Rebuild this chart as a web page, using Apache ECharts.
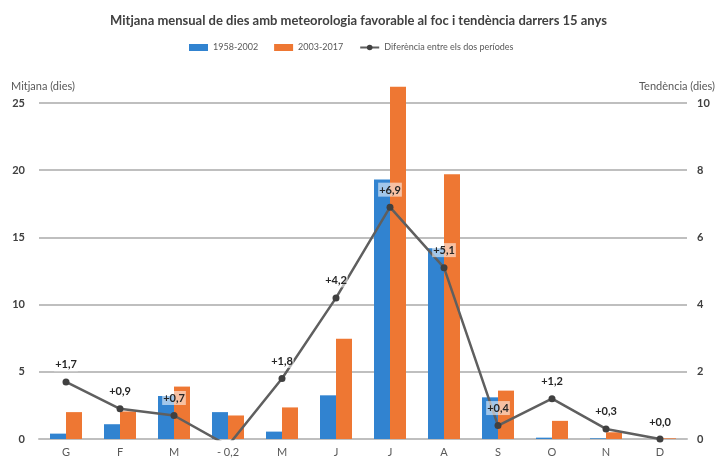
<!DOCTYPE html>
<html>
<head>
<meta charset="utf-8">
<script src="https://cdn.jsdelivr.net/npm/echarts@6/dist/echarts.min.js"></script>
<style>html,body{margin:0;padding:0;background:#fff}#c{width:717px;height:461px}</style>
</head>
<body>
<div id="c"></div>
<script>
const months = ['G','F','M','A','M','J','J','A','S','O','N','D'];
const period1 = [0.4, 1.1, 3.2, 2.0, 0.55, 3.25, 19.3, 14.2, 3.1, 0.1, 0.05, 0.0];
const period2 = [2.0, 2.05, 3.9, 1.75, 2.35, 7.45, 26.2, 19.7, 3.6, 1.35, 0.5, 0.05];
const diff = [1.7, 0.9, 0.7, -0.2, 1.8, 4.2, 6.9, 5.1, 0.4, 1.2, 0.3, 0.0];
const leftTicks = [0, 5, 10, 15, 20, 25];
const rightTicks = [0, 2, 4, 6, 8, 10];
const seriesNames = ['1958-2002', '2003-2017', 'Diferència entre els dos períodes'];

const fmt = v => (v < 0 ? '- ' : '+') + Math.abs(v).toFixed(1).replace('.', ',');
const FONT = 'Lato';

const chart = echarts.init(document.getElementById('c'), null, {renderer: 'canvas'});
chart.setOption({
  backgroundColor: '#ffffff',
  animation: false,
  textStyle: {fontFamily: FONT},
  title: {
    text: 'Mitjana mensual de dies amb meteorologia favorable al foc i tendència darrers 15 anys',
    left: 'center', top: 9,
    textStyle: {fontFamily: FONT, fontSize: 13, fontWeight: 'bold', color: '#404040'}
  },
  legend: {
    top: 38, left: 184,
    itemWidth: 19, itemHeight: 7, itemGap: 16,
    textStyle: {fontFamily: FONT, fontSize: 9, color: '#595959'},
    data: [
      {name: seriesNames[0], icon: 'rect'},
      {name: seriesNames[1], icon: 'rect'},
      {name: seriesNames[2]}
    ]
  },
  graphic: [
    {type: 'text', left: 11, top: 81, style: {text: 'Mitjana (dies)', fontFamily: FONT, fontSize: 11, fill: '#595959'}},
    {type: 'text', right: 2, top: 81, style: {text: 'Tendència (dies)', fontFamily: FONT, fontSize: 11, fill: '#595959'}}
  ],
  grid: {left: 39, right: 30, top: 103, bottom: 22},
  xAxis: {
    type: 'category', data: months,
    axisLine: {lineStyle: {color: '#BFBFBF', width: 2}},
    axisTick: {show: false},
    axisLabel: {
      margin: 8, fontSize: 11, color: '#595959', fontFamily: FONT,
      formatter: (v, i) => diff[i] < 0 ? fmt(diff[i]) : v
    }
  },
  yAxis: [
    {
      type: 'value', min: leftTicks[0], max: leftTicks[leftTicks.length - 1], interval: leftTicks[1] - leftTicks[0],
      axisLine: {show: false}, axisTick: {show: false},
      axisLabel: {margin: 14, fontSize: 11, color: '#404040', fontWeight: 'bold', fontFamily: FONT},
      splitLine: {lineStyle: {color: '#BFBFBF', width: 2}}
    },
    {
      type: 'value', min: rightTicks[0], max: rightTicks[rightTicks.length - 1], interval: rightTicks[1] - rightTicks[0],
      axisLine: {show: false}, axisTick: {show: false},
      axisLabel: {margin: 10, fontSize: 11, color: '#404040', fontWeight: 'bold', fontFamily: FONT},
      splitLine: {show: false}
    }
  ],
  series: [
    {name: seriesNames[0], type: 'bar', data: period1, barWidth: 16, barGap: '0%', clip: false,
     itemStyle: {color: '#3183D0'}},
    {name: seriesNames[1], type: 'bar', data: period2, barWidth: 16, clip: false,
     itemStyle: {color: '#EE7733'}},
    {name: seriesNames[2], type: 'line', yAxisIndex: 1, data: diff, clip: true,
     symbol: 'circle', symbolSize: 7, z: 5,
     lineStyle: {color: '#5F5F5F', width: 2.5},
     itemStyle: {color: '#404040'},
     label: {
       show: true, position: 'top', distance: 7,
       fontFamily: FONT, fontSize: 11, fontWeight: 'bold', color: '#262626',
       backgroundColor: 'rgba(255,255,255,0.55)', padding: [2, 1, 1, 1],
       formatter: p => p.value < 0 ? '' : fmt(p.value)
     }}
  ]
});
</script>
</body>
</html>
